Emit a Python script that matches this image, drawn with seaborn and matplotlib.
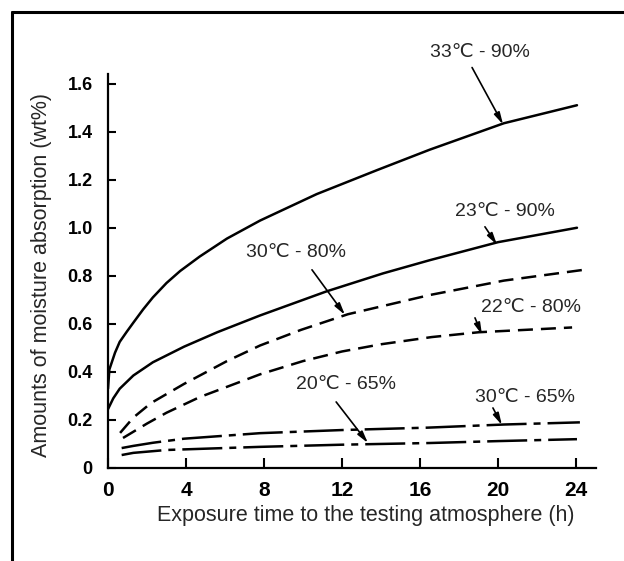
import matplotlib
matplotlib.use('Agg')
import matplotlib.pyplot as plt
import seaborn as sns
from matplotlib import font_manager
from matplotlib.lines import Line2D

# values (time in h, absorption in wt%)
t_33_90 = [0, 0.07, 0.36, 0.6, 0.96, 1.3, 1.8, 2.3, 3.0, 3.7, 4.7, 6.1, 7.8, 10.7, 13.8, 16.5, 20.3, 24.05]
v_33_90 = [0.33, 0.41, 0.48, 0.525, 0.567, 0.605, 0.66, 0.71, 0.77, 0.82, 0.88, 0.955, 1.03, 1.14, 1.24, 1.325, 1.435, 1.51]

t_23_90 = [0, 0.27, 0.6, 1.3, 2.3, 3.9, 5.6, 7.8, 11.2, 14.1, 16.5, 20, 24.05]
v_23_90 = [0.245, 0.29, 0.33, 0.385, 0.44, 0.505, 0.565, 0.635, 0.735, 0.81, 0.865, 0.94, 1.0]

t_30_80 = [0.62, 1.3, 2.2, 3.9, 6.1, 7.8, 9.9, 12.3, 16.5, 20.3, 24.4]
v_30_80 = [0.146, 0.21, 0.27, 0.35, 0.445, 0.51, 0.575, 0.64, 0.72, 0.78, 0.825]

t_22_80 = [0.77, 2.0, 3.0, 4.7, 7.8, 10, 12, 14, 16.6, 19, 23.8]
v_22_80 = [0.125, 0.185, 0.23, 0.295, 0.39, 0.445, 0.485, 0.515, 0.545, 0.565, 0.585]

t_30_65 = [0.7, 1.3, 2.3, 3.9, 7.8, 12, 16.4, 20.3, 24.2]
v_30_65 = [0.083, 0.092, 0.105, 0.122, 0.145, 0.158, 0.168, 0.181, 0.19]

t_20_65 = [0.7, 1.3, 3.0, 7.8, 12, 16.5, 20, 24.05]
v_20_65 = [0.054, 0.063, 0.075, 0.088, 0.097, 0.104, 0.112, 0.12]

x_ticks = [0, 4, 8, 12, 16, 20, 24]
y_ticks = [0, 0.2, 0.4, 0.6, 0.8, 1.0, 1.2, 1.4, 1.6]
y_tick_labels = ['0', '0.2', '0.4', '0.6', '0.8', '1.0', '1.2', '1.4', '1.6']

# label text, text centre, arrow start, arrow tip
labels = [
    ('33℃ - 90%', (19.08, 1.729), (18.67, 1.667), (20.26, 1.43)),
    ('23℃ - 90%', (20.36, 1.067), (19.33, 1.004), (19.95, 0.929)),
    ('30℃ - 80%', (9.64, 0.896), (10.46, 0.825), (12.15, 0.6375)),
    ('22℃ - 80%', (21.7, 0.667), (18.82, 0.625), (19.18, 0.554)),
    ('30℃ - 65%', (21.38, 0.292), (19.74, 0.25), (20.2, 0.179)),
    ('20℃ - 65%', (12.2, 0.346), (11.7, 0.275), (13.33, 0.104)),
]

sns.set_style('ticks')
installed = {f.name for f in font_manager.fontManager.ttflist}
narrow = 'Liberation Sans Narrow' if 'Liberation Sans Narrow' in installed else 'Liberation Sans'
plt.rcParams['font.family'] = ['Liberation Sans', 'DejaVu Sans']

fig = plt.figure(figsize=(6.24, 5.61), dpi=100)
ax = fig.add_axes([108 / 624, 93 / 561, 487.5 / 624, 394 / 561])

dashed = (0, (6, 3.2))
dashdot = (0, (16, 2.8, 2.8, 2.8))
series = [
    (t_33_90, v_33_90, '-'),
    (t_23_90, v_23_90, '-'),
    (t_30_80, v_30_80, dashed),
    (t_22_80, v_22_80, dashed),
    (t_30_65, v_30_65, dashdot),
    (t_20_65, v_20_65, dashdot),
]
for t, v, ls in series:
    sns.lineplot(x=t, y=v, ax=ax, color='black', linewidth=1.8,
                 linestyle=ls, errorbar=None, sort=False)

for text, pos, start, tip in labels:
    ax.text(pos[0], pos[1], text, ha='center', va='center', fontsize=14,
            family=[narrow, 'DejaVu Sans'], clip_on=False)
    ax.annotate('', xy=tip, xytext=start, annotation_clip=False,
                arrowprops=dict(arrowstyle='-|>,head_length=0.7,head_width=0.18',
                                color='black', lw=1.2, shrinkA=0, shrinkB=0))

ax.set_xlim(0, 25)
ax.set_ylim(0, 1.64)
ax.set_xticks(x_ticks)
ax.set_xticklabels([str(x) for x in x_ticks], fontsize=15, fontweight='bold',
                   family=[narrow, 'DejaVu Sans'])
ax.set_yticks(y_ticks)
ax.set_yticklabels(y_tick_labels, fontsize=13, fontweight='bold')
ax.tick_params(axis='x', direction='in', length=7, width=1.5, pad=9, colors='black')
ax.tick_params(axis='y', direction='in', length=5.5, width=1.5, pad=11, colors='black')
for side in ['top', 'right']:
    ax.spines[side].set_visible(False)
for side in ['left', 'bottom']:
    ax.spines[side].set_linewidth(1.6)
    ax.spines[side].set_color('black')

ax.set_xlabel('Exposure time to the testing atmosphere (h)', fontsize=15.5)
ax.set_ylabel('Amounts of moisture absorption (wt%)', fontsize=15.5)
ax.xaxis.set_label_coords(0.529, -0.095)
ax.yaxis.set_label_coords(-0.115, 0.49)

# frame of the scanned page (top and left edges)
fig.add_artist(Line2D([12 / 624, 12 / 624], [0, 1 - 12 / 561], color='black', lw=2.2))
fig.add_artist(Line2D([12 / 624, 1], [1 - 12 / 561, 1 - 12 / 561], color='black', lw=2.2))

fig.savefig('out.png', dpi=100)
